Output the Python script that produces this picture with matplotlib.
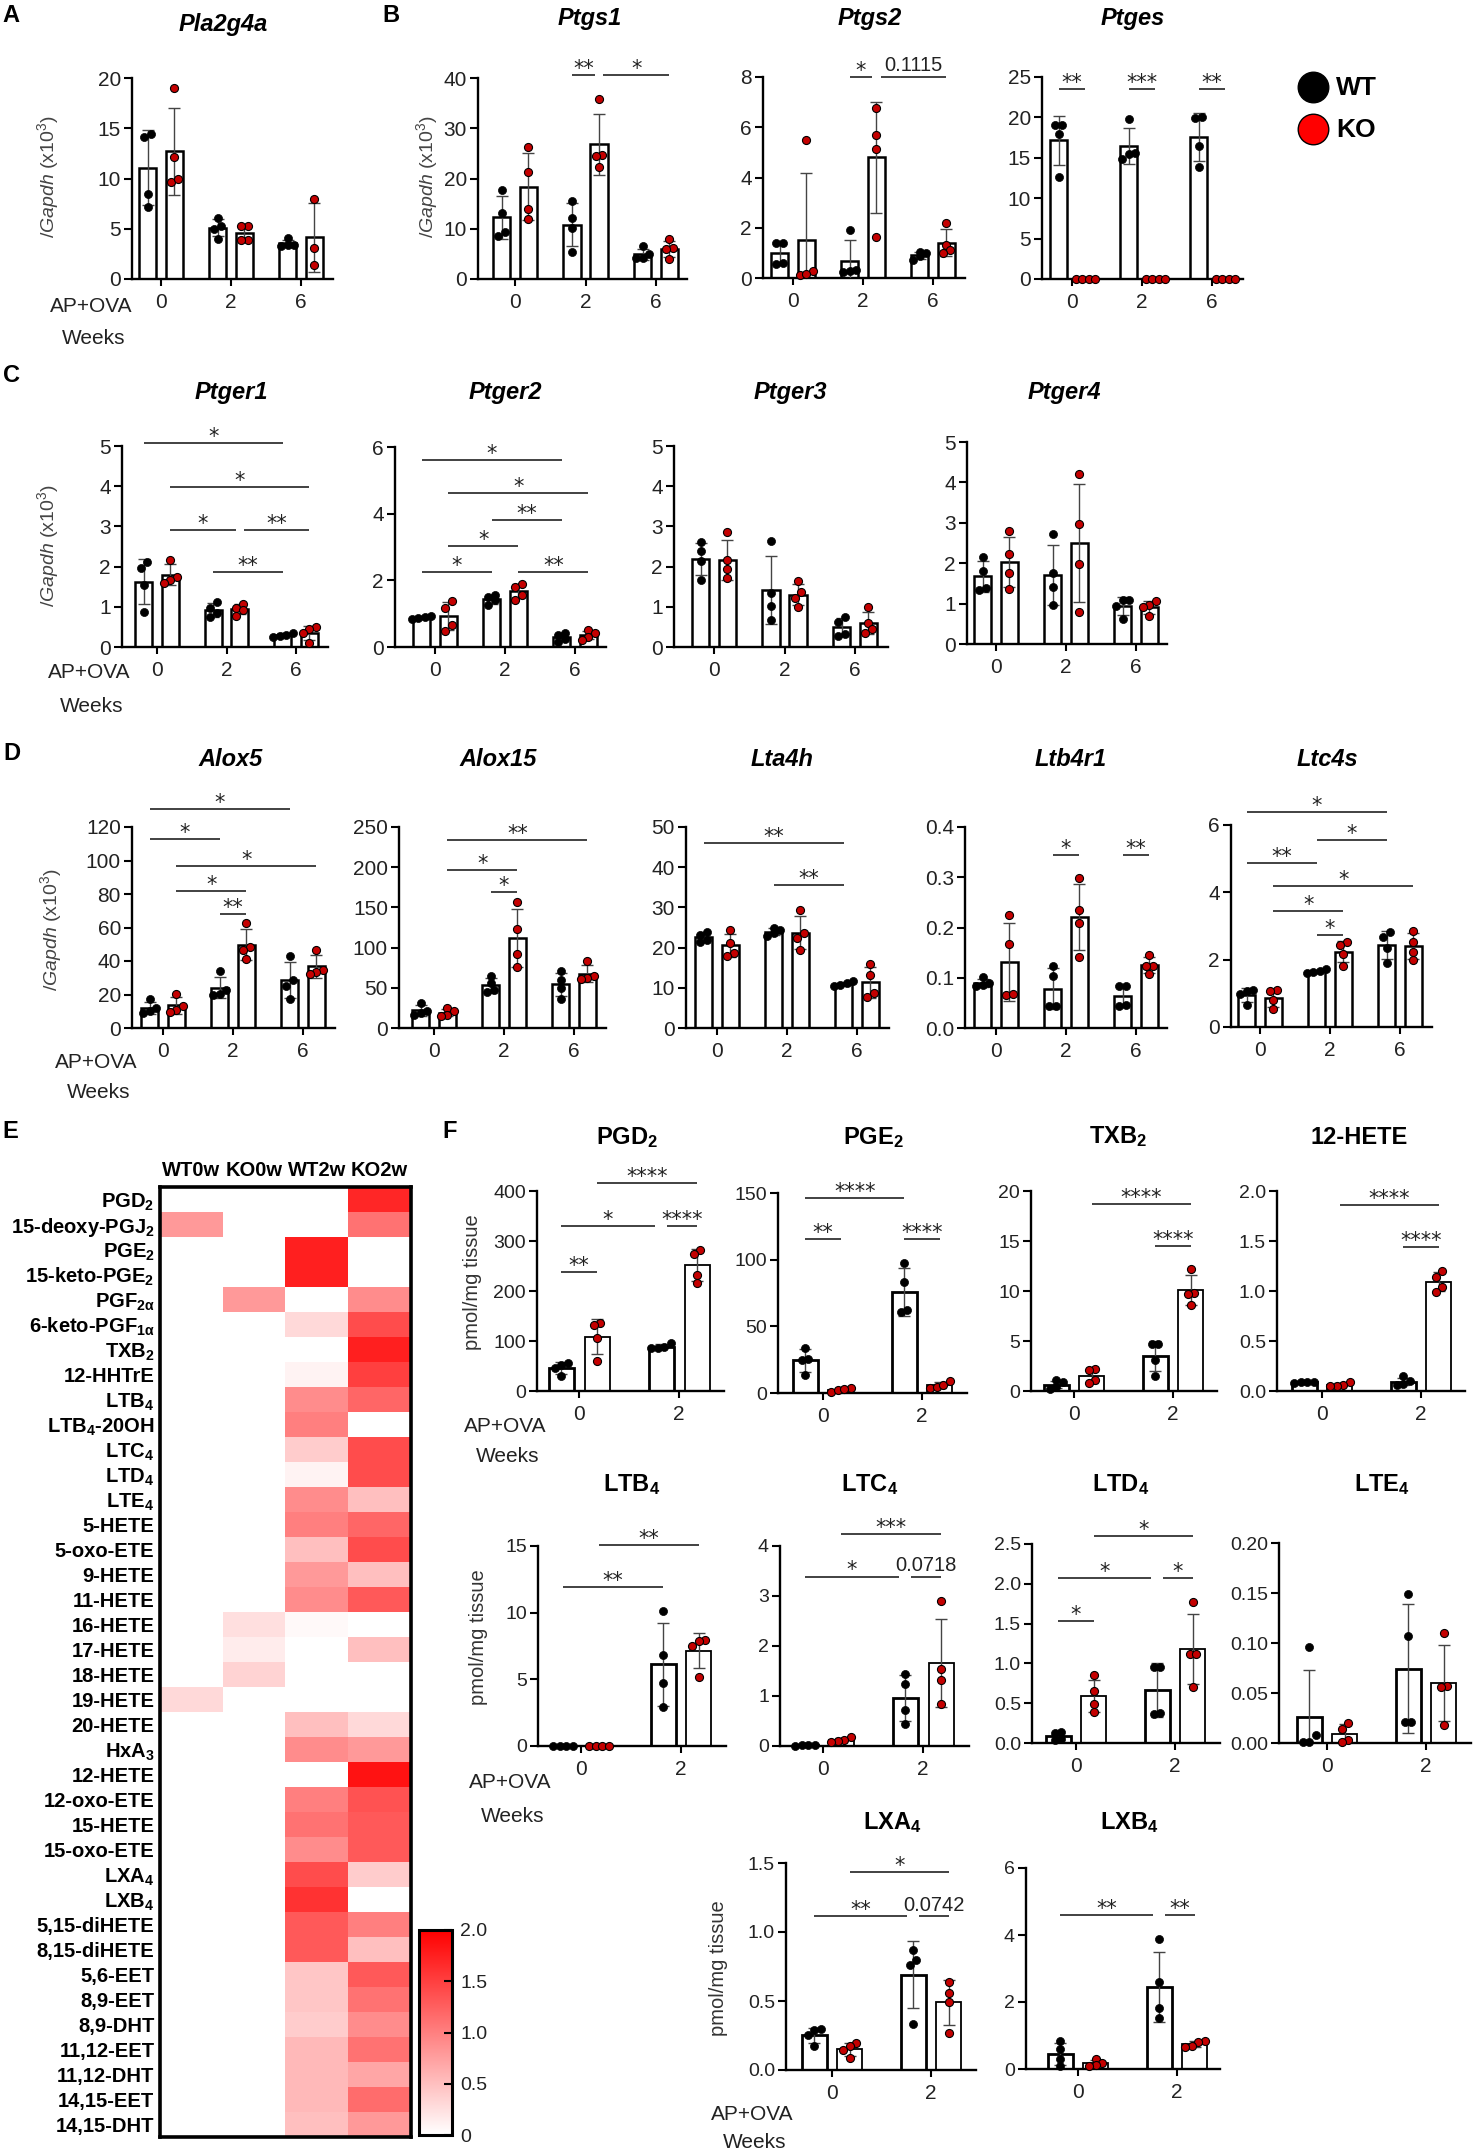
import numpy as np
import matplotlib
matplotlib.use('Agg')
import matplotlib.pyplot as plt
from matplotlib.colors import LinearSegmentedColormap

plt.rcParams['font.family'] = ['Liberation Sans', 'DejaVu Sans']
plt.rcParams['mathtext.fontset'] = 'custom'
plt.rcParams['mathtext.rm'] = 'Liberation Sans'
plt.rcParams['mathtext.it'] = 'Liberation Sans:italic'
plt.rcParams['mathtext.bf'] = 'Liberation Sans:bold'
plt.rcParams['mathtext.default'] = 'regular'

W, H = 1476, 2154

# replicate points per group, order: WT0, KO0, WT2, KO2, WT6, KO6
pla2g4a = [[14.1, 14.4, 8.5, 7.2], [19.0, 12.1, 9.7, 10.0], [6.1, 5.3, 5.0, 4.0],
           [5.3, 5.3, 3.9, 3.9], [4.1, 3.4, 3.3, 3.4], [8.0, 3.1, 1.4]]
ptgs1 = [[17.8, 13.2, 9.4, 8.6], [26.3, 21.3, 14.0, 12.0], [15.5, 12.2, 10.2, 5.4],
         [35.8, 24.6, 24.4, 22.3], [6.5, 4.9, 4.2, 4.2], [7.9, 6.2, 6.0, 3.9]]
ptgs2 = [[1.39, 1.39, 0.6, 0.57], [5.5, 0.26, 0.13, 0.17], [1.92, 0.26, 0.22, 0.33],
         [6.75, 5.7, 5.13, 1.63], [0.99, 1.03, 0.86, 0.73], [2.2, 1.32, 1.12, 0.99]]
ptges = [[19.0, 19.1, 17.9, 12.6], [0, 0, 0, 0], [19.8, 15.5, 14.9, 15.6],
         [0, 0, 0, 0], [19.9, 20.1, 16.4, 13.9], [0, 0, 0, 0]]
ptger1 = [[2.12, 1.96, 1.53, 0.87], [2.17, 1.75, 1.67, 1.6], [1.13, 0.97, 0.84, 0.74],
          [1.07, 0.97, 0.93, 0.78], [0.35, 0.31, 0.28, 0.26], [0.49, 0.45, 0.35, 0.1]]
ptger2 = [[0.92, 0.9, 0.87, 0.84], [1.37, 1.17, 0.67, 0.47], [1.57, 1.5, 1.4, 1.27],
          [1.89, 1.81, 1.57, 1.42], [0.42, 0.37, 0.24, 0.14], [0.5, 0.42, 0.3, 0.22]]
ptger3 = [[2.6, 2.38, 2.13, 1.67], [2.87, 2.17, 1.94, 1.71], [2.63, 1.34, 1.02, 0.68],
          [1.63, 1.37, 1.22, 0.99], [0.75, 0.62, 0.33, 0.27], [0.99, 0.6, 0.46, 0.36]]
ptger4 = [[2.16, 1.81, 1.39, 1.33], [2.79, 2.24, 1.75, 1.35], [2.72, 1.75, 1.42, 0.96],
          [4.22, 2.98, 1.99, 0.8], [1.1, 1.1, 0.94, 0.63], [1.07, 0.96, 0.92, 0.69]]
alox5 = [[17.3, 11.9, 10.3, 9.0], [20.5, 13.3, 10.9, 9.4], [33.8, 22.5, 20.5, 19.9],
         [62.7, 48.2, 46.8, 41.2], [42.8, 28.9, 24.9, 17.3], [46.8, 34.8, 33.2, 32.4]]
alox15 = [[31.1, 20.7, 18.7, 16.6], [24.9, 20.7, 16.6, 14.5], [65.1, 56.0, 46.8, 44.4],
          [156.7, 123.1, 92.5, 75.5], [70.5, 60.1, 49.8, 36.1], [82.9, 64.3, 62.2, 60.9]]
lta4h = [[24.0, 23.2, 22.0, 21.3], [24.3, 21.1, 18.7, 18.0], [24.9, 24.5, 23.6, 23.0],
         [29.4, 23.6, 22.4, 19.5], [11.6, 11.2, 10.8, 10.4], [15.8, 13.3, 8.7, 7.6]]
ltb4r1 = [[0.101, 0.09, 0.086, 0.083], [0.224, 0.167, 0.066, 0.068], [0.123, 0.103, 0.043, 0.044],
          [0.299, 0.234, 0.209, 0.141], [0.083, 0.083, 0.046, 0.044], [0.146, 0.124, 0.123, 0.108]]
ltc4s = [[1.11, 1.07, 0.97, 0.64], [1.09, 1.07, 0.79, 0.52], [1.71, 1.67, 1.64, 1.59],
         [2.53, 2.43, 2.18, 1.81], [2.83, 2.68, 2.35, 1.9], [2.86, 2.53, 2.23, 2.0]]

# lipid panels, order: WT0, KO0, WT2, KO2
pgd2 = [[56.7, 51.3, 46.7, 29.3], [136.7, 131.3, 106, 60], [96.7, 88, 86, 85.3], [282.7, 273.3, 232.7, 216]]
pge2 = [[33.75, 25.75, 25, 13.25], [0.75, 4, 2.5, 3.25], [97.75, 83.25, 62, 60.75], [3.75, 4.5, 5.75, 9]]
txb2 = [[1.07, 0.9, 0.4, 0.23], [2.23, 2.07, 1.07, 0.8], [4.67, 4.67, 3.13, 1.47], [12.17, 9.83, 9.73, 8.63]]
hete12 = [[0.085, 0.09, 0.09, 0.095], [0.09, 0.057, 0.05, 0.047], [0.147, 0.097, 0.073, 0.063], [1.2, 1.14, 1.04, 0.99]]
ltb4 = [[0.03, 0.02, 0.02, 0.01], [0.02, 0.02, 0.02, 0.02], [10.1, 6.8, 4.7, 2.9], [7.95, 7.9, 7.5, 5.2]]
ltc4 = [[0.01, 0.02, 0.02, 0.03], [0.187, 0.12, 0.107, 0.087], [1.45, 1.24, 0.73, 0.44], [2.9, 1.55, 1.33, 0.85]]
ltd4 = [[0.14, 0.126, 0.055, 0.034], [0.85, 0.65, 0.49, 0.39], [0.96, 0.96, 0.38, 0.37], [1.77, 1.12, 1.12, 0.7]]
lte4 = [[0.096, 0.0077, 0.001, 0.001], [0.02, 0.0143, 0.0027, 0.001], [0.149, 0.107, 0.021, 0.021], [0.11, 0.057, 0.056, 0.018]]
lxa4 = [[0.294, 0.289, 0.253, 0.174], [0.193, 0.174, 0.145, 0.089], [0.873, 0.796, 0.76, 0.333], [0.639, 0.559, 0.494, 0.265]]
lxb4 = [[0.83, 0.6, 0.3, 0.08], [0.3, 0.18, 0.13, 0.08], [3.88, 2.59, 1.82, 1.52], [0.83, 0.8, 0.7, 0.66]]

# significance: (bar i, bar j, height, label)
sig_ptgs1 = [(2, 3, 40.6, '**'), (3, 5, 40.6, '*')]
sig_ptgs2 = [(2, 3, 8.0, '*'), (3, 5, 8.0, '0.1115')]
sig_ptges = [(0, 1, 23.5, '**'), (2, 3, 23.5, '***'), (4, 5, 23.5, '**')]
sig_ptger1 = [(0, 4, 5.07, '*'), (1, 5, 3.99, '*'), (1, 3, 2.91, '*'), (3, 5, 2.91, '**'), (2, 4, 1.86, '**')]
sig_ptger2 = [(0, 4, 5.62, '*'), (1, 5, 4.63, '*'), (2, 4, 3.81, '**'), (1, 3, 3.03, '*'),
              (0, 2, 2.26, '*'), (3, 5, 2.26, '**')]
sig_alox5 = [(0, 4, 130.7, '*'), (0, 2, 112.8, '*'), (1, 5, 96.5, '*'), (1, 3, 81.6, '*'), (2, 3, 68.1, '**')]
sig_alox15 = [(1, 5, 234, '**'), (1, 3, 197, '*'), (2, 3, 168.7, '*')]
sig_lta4h = [(0, 4, 46.0, '**'), (2, 4, 35.5, '**')]
sig_ltb4r1 = [(2, 3, 0.345, '*'), (4, 5, 0.345, '**')]
sig_ltc4s = [(0, 4, 6.38, '*'), (2, 4, 5.56, '*'), (0, 2, 4.88, '**'), (1, 5, 4.2, '*'),
             (1, 3, 3.45, '*'), (2, 3, 2.73, '*')]
sig_pgd2 = [(1, 3, 416.7, '****'), (0, 2, 330, '*'), (2, 3, 330, '****'), (0, 1, 238, '**')]
sig_pge2 = [(0, 2, 146.5, '****'), (0, 1, 115.75, '**'), (2, 3, 115.75, '****')]
sig_txb2 = [(1, 3, 18.73, '****'), (2, 3, 14.47, '****')]
sig_hete12 = [(1, 3, 1.857, '****'), (2, 3, 1.44, '****')]
sig_ltb4 = [(1, 3, 15.08, '**'), (0, 2, 11.9, '**')]
sig_ltc4 = [(1, 3, 4.24, '***'), (0, 2, 3.39, '*'), (2, 3, 3.39, '0.0718')]
sig_ltd4 = [(1, 3, 2.6, '*'), (0, 2, 2.07, '*'), (2, 3, 2.07, '*'), (0, 1, 1.535, '*')]
sig_lxa4 = [(1, 3, 1.435, '*'), (0, 2, 1.114, '**'), (2, 3, 1.114, '0.0742')]
sig_lxb4 = [(0, 2, 4.6, '**'), (2, 3, 4.6, '**')]

weeks3 = ['0', '2', '6']
weeks2 = ['0', '2']

# heatmap (panel E)
hm_rows = ['PGD$_2$', '15-deoxy-PGJ$_2$', 'PGE$_2$', '15-keto-PGE$_2$', 'PGF$_{2α}$', '6-keto-PGF$_{1α}$',
           'TXB$_2$', '12-HHTrE', 'LTB$_4$', 'LTB$_4$-20OH', 'LTC$_4$', 'LTD$_4$', 'LTE$_4$', '5-HETE',
           '5-oxo-ETE', '9-HETE', '11-HETE', '16-HETE', '17-HETE', '18-HETE', '19-HETE', '20-HETE',
           'HxA$_3$', '12-HETE', '12-oxo-ETE', '15-HETE', '15-oxo-ETE', 'LXA$_4$', 'LXB$_4$',
           '5,15-diHETE', '8,15-diHETE', '5,6-EET', '8,9-EET', '8,9-DHT', '11,12-EET', '11,12-DHT',
           '14,15-EET', '14,15-DHT']
hm_cols = ['WT0w', 'KO0w', 'WT2w', 'KO2w']
hm_wt0 = [0, 0.8, 0, 0, 0, 0, 0, 0, 0, 0, 0, 0, 0, 0, 0, 0, 0, 0, 0, 0, 0.3, 0, 0, 0, 0, 0, 0, 0, 0,
          0, 0, 0, 0, 0, 0, 0, 0, 0]
hm_ko0 = [0, 0, 0, 0, 0.8, 0, 0, 0, 0, 0, 0, 0, 0, 0, 0, 0, 0, 0.25, 0.15, 0.35, 0, 0, 0, 0, 0, 0, 0,
          0, 0, 0, 0, 0, 0, 0, 0, 0, 0, 0]
hm_wt2 = [0, 0, 1.75, 1.75, 0, 0.3, 0, 0.1, 0.9, 1.0, 0.4, 0.1, 0.9, 1.0, 0.5, 0.8, 0.9, 0.05, 0, 0, 0,
          0.5, 0.9, 0, 1.0, 1.1, 0.9, 1.4, 1.6, 1.3, 1.3, 0.45, 0.45, 0.4, 0.55, 0.55, 0.55, 0.5]
hm_ko2 = [1.7, 1.1, 0, 0, 0.9, 1.4, 1.75, 1.5, 1.2, 0, 1.4, 1.4, 0.5, 1.2, 1.4, 0.5, 1.3, 0, 0.5, 0, 0,
          0.3, 0.8, 1.85, 1.35, 1.3, 1.3, 0.4, 0, 1.0, 0.5, 1.3, 1.1, 0.9, 1.1, 0.7, 1.15, 0.8]

GENE_YLABEL = r'$\it{/Gapdh}$ (x10$^3$)'
KO_RED = '#c40000'

fig = plt.figure(figsize=(W / 100, H / 100), dpi=100)
ov = fig.add_axes([0, 0, 1, 1])
ov.set_xlim(0, W)
ov.set_ylim(H, 0)
ov.axis('off')


def px_rect(l, t, r, b):
    return [l / W, 1 - b / H, (r - l) / W, (b - t) / H]


def swarm(v, thr, step):
    order = np.argsort(v)
    offs = np.zeros(len(v))
    clusters, cur = [], [order[0]]
    for k in order[1:]:
        if v[k] - v[cur[0]] < thr:
            cur.append(k)
        else:
            clusters.append(cur)
            cur = [k]
    clusters.append(cur)
    for c in clusters:
        for j, k in enumerate(c):
            offs[k] = (j - (len(c) - 1) / 2) * step
    return offs


def draw_panel(title, pts, sig, yticks, ylabels, rect, g0, sp, tpos, groups, lipid):
    l, t, r, b = rect
    ax = fig.add_axes(px_rect(l, t, r, b))
    off = 0.18 if lipid else 0.19
    ax.set_xlim((l - g0) / sp, (r - g0) / sp)
    ymax = yticks[-1]
    ax.set_ylim(0, ymax)
    bx = lambda i: i // 2 + (off if i % 2 else -off)
    for i, vals in enumerate(pts):
        v = np.array(vals, float)
        m, s = v.mean(), v.std(ddof=1)
        x = bx(i)
        lw = (2.0 if i % 2 == 0 else 1.3) if lipid else 1.8
        ax.bar(x, m, width=0.25, facecolor='white', edgecolor='black', linewidth=lw, zorder=2)
        ax.errorbar(x, m, yerr=s, fmt='none', ecolor='#444444', elinewidth=1.0,
                    capsize=4, capthick=1.0, zorder=3)
        xs = x + swarm(v, 0.035 * ymax, 6.5 / sp)
        if i % 2 == 0:
            ax.plot(xs, v, 'o', ms=5.8, mfc='black', mec='black', mew=0.5, zorder=4, clip_on=False)
        else:
            ax.plot(xs, v, 'o', ms=5.8, mfc=KO_RED, mec='black', mew=0.8, zorder=4, clip_on=False)
    for (i, j, y, lab) in sig:
        x1, x2 = bx(i), bx(j)
        for (i2, j2, y2, _) in sig:
            if (i2, j2) != (i, j) and abs(y2 - y) < 1e-9:
                if i2 == j:
                    x2 -= 0.06
                if j2 == i:
                    x1 += 0.06
        ax.plot([x1, x2], [y, y], color='#333333', lw=1.3, clip_on=False, solid_capstyle='butt')
        if set(lab) == {'*'}:
            ax.annotate(lab, ((x1 + x2) / 2, y), xytext=(0, 0), textcoords='offset points',
                        ha='center', va='baseline', fontsize=15, family='DejaVu Sans',
                        color='#222222', annotation_clip=False)
        else:
            ax.annotate(lab, ((x1 + x2) / 2, y), xytext=(0, 4), textcoords='offset points',
                        ha='center', va='baseline', fontsize=14.5, color='#222222',
                        annotation_clip=False)
    for sname in ['top', 'right']:
        ax.spines[sname].set_visible(False)
    for sname in ['left', 'bottom']:
        ax.spines[sname].set_linewidth(1.7)
    ax.set_xticks(range(len(groups)))
    ax.set_xticklabels(groups)
    ax.set_yticks(yticks)
    ax.set_yticklabels(ylabels if ylabels else [f'{v:g}' for v in yticks])
    ax.tick_params(axis='x', length=5, width=1.5, labelsize=15, labelcolor='#222222', pad=5)
    ax.tick_params(axis='y', length=6, width=1.5, labelsize=14 if lipid else 15,
                   labelcolor='#222222', pad=2)
    ov.text(tpos[0], tpos[1], title, ha='center', va='center', fontsize=17, fontweight='bold',
            fontstyle='normal' if lipid else 'italic')
    return ax


gene_specs = [
    ('Pla2g4a', pla2g4a, [], [0, 5, 10, 15, 20], None, (132, 78, 333, 279), 161, 70, (223, 25)),
    ('Ptgs1', ptgs1, sig_ptgs1, [0, 10, 20, 30, 40], None, (478, 78, 687, 279), 515, 70.5, (590, 18)),
    ('Ptgs2', ptgs2, sig_ptgs2, [0, 2, 4, 6, 8], None, (763, 77, 965, 278), 793, 70, (870, 18)),
    ('Ptges', ptges, sig_ptges, [0, 5, 10, 15, 20, 25], None, (1042, 77, 1243, 279), 1072, 70, (1133, 18)),
    ('Ptger1', ptger1, sig_ptger1, [0, 1, 2, 3, 4, 5], None, (122, 446, 328, 647), 157, 69.5, (231, 392)),
    ('Ptger2', ptger2, sig_ptger2, [0, 2, 4, 6], None, (395, 447, 606, 647), 435, 70, (505, 392)),
    ('Ptger3', ptger3, [], [0, 1, 2, 3, 4, 5], None, (674, 446, 888, 647), 714, 70.5, (790, 392)),
    ('Ptger4', ptger4, [], [0, 1, 2, 3, 4, 5], None, (967, 442, 1167, 644), 996, 70, (1064, 392)),
    ('Alox5', alox5, sig_alox5, [0, 20, 40, 60, 80, 100, 120], None, (132, 827, 335, 1028), 163, 70, (231, 760)),
    ('Alox15', alox15, sig_alox15, [0, 50, 100, 150, 200, 250], None, (399, 827, 606, 1028), 434, 70, (498, 760)),
    ('Lta4h', lta4h, sig_lta4h, [0, 10, 20, 30, 40, 50], None, (686, 827, 889, 1028), 717, 70, (782, 760)),
    ('Ltb4r1', ltb4r1, sig_ltb4r1, [0, 0.1, 0.2, 0.3, 0.4], ['0.0', '0.1', '0.2', '0.3', '0.4'],
     (965, 827, 1167, 1028), 996, 70, (1071, 760)),
    ('Ltc4s', ltc4s, sig_ltc4s, [0, 2, 4, 6], None, (1231, 825, 1432, 1027), 1260, 70, (1327, 760)),
]
lipid_specs = [
    ('PGD$_2$', pgd2, sig_pgd2, [0, 100, 200, 300, 400], None, (537, 1191, 724, 1391), 579, 100, (627, 1138)),
    ('PGE$_2$', pge2, sig_pge2, [0, 50, 100, 150], None, (778, 1193, 967, 1393), 823, 99, (873, 1138)),
    ('TXB$_2$', txb2, sig_txb2, [0, 5, 10, 15, 20], None, (1031, 1191, 1217, 1391), 1074, 99, (1118, 1137)),
    ('12-HETE', hete12, sig_hete12, [0, 0.5, 1.0, 1.5, 2.0], ['0.0', '0.5', '1.0', '1.5', '2.0'],
     (1277, 1191, 1465, 1391), 1322, 99, (1359, 1137)),
    ('LTB$_4$', ltb4, sig_ltb4, [0, 5, 10, 15], None, (538, 1546, 726, 1746), 581, 100, (632, 1485)),
    ('LTC$_4$', ltc4, sig_ltc4, [0, 1, 2, 3, 4], None, (780, 1546, 969, 1746), 823, 100, (870, 1485)),
    ('LTD$_4$', ltd4, sig_ltd4, [0, 0.5, 1.0, 1.5, 2.0, 2.5], ['0.0', '0.5', '1.0', '1.5', '2.0', '2.5'],
     (1032, 1544, 1220, 1743), 1076, 99, (1121, 1485)),
    ('LTE$_4$', lte4, [], [0, 0.05, 0.10, 0.15, 0.20], ['0.00', '0.05', '0.10', '0.15', '0.20'],
     (1279, 1543, 1471, 1743), 1327, 99, (1382, 1485)),
    ('LXA$_4$', lxa4, sig_lxa4, [0, 0.5, 1.0, 1.5], ['0.0', '0.5', '1.0', '1.5'],
     (786, 1863, 976, 2070), 832, 99, (892, 1823)),
    ('LXB$_4$', lxb4, sig_lxb4, [0, 2, 4, 6], None, (1026, 1868, 1220, 2069), 1078, 99, (1129, 1823)),
]

for s in gene_specs:
    draw_panel(*s, groups=weeks3, lipid=False)
for s in lipid_specs:
    draw_panel(*s, groups=weeks2, lipid=True)

# axis labels
for (x, y) in [(48, 177), (427, 177), (48, 546), (51, 930)]:
    ov.text(x, y, GENE_YLABEL, rotation=90, ha='center', va='center', fontsize=14, color='#444444')
for (x, y) in [(472, 1282), (478, 1637), (719, 1968)]:
    ov.text(x, y, 'pmol/mg tissue', rotation=90, ha='center', va='center', fontsize=14.5, color='#333333')
for (x, y1, y2) in [(91, 307, 338), (89, 672, 707), (96, 1062, 1092),
                    (505, 1426, 1456), (510, 1783, 1816), (752, 2114, 2142)]:
    ov.text(x, y1, 'AP+OVA', ha='center', va='center', fontsize=15, color='#222222')
    ov.text(x + 3, y2, 'Weeks', ha='center', va='center', fontsize=15, color='#222222')

# panel letters
for (lab, x, y) in [('A', 2, 15), ('B', 382, 15), ('C', 3, 376), ('D', 3, 754), ('E', 2, 1131), ('F', 442, 1131)]:
    ov.text(x, y, lab, ha='left', va='center', fontsize=17, fontweight='bold')

# legend
ov.plot([1313], [87], 'o', ms=22, mfc='black', mec='black', clip_on=False)
ov.plot([1313], [129], 'o', ms=22, mfc='#ff0000', mec='black', mew=1.0, clip_on=False)
ov.text(1336, 88, 'WT', ha='left', va='center', fontsize=19, fontweight='bold')
ov.text(1336, 130, 'KO', ha='left', va='center', fontsize=19, fontweight='bold')

# heatmap E
cmap = LinearSegmentedColormap.from_list('wr', ['#ffffff', '#ff0000'])
hm = np.column_stack([hm_wt0, hm_ko0, hm_wt2, hm_ko2])
axh = fig.add_axes(px_rect(160, 1187, 411, 2137))
im = axh.imshow(hm, cmap=cmap, vmin=0, vmax=2, aspect='auto', interpolation='nearest')
axh.set_xticks([])
axh.set_yticks(range(len(hm_rows)))
axh.set_yticklabels(hm_rows, fontsize=14.5, fontweight='bold')
axh.tick_params(axis='y', length=0, pad=4)
for sp_ in axh.spines.values():
    sp_.set_linewidth(2.6)
for k, c in enumerate(hm_cols):
    ov.text(160 + 62.75 * (k + 0.5), 1170, c, ha='center', va='center', fontsize=14.5, fontweight='bold')

cax = fig.add_axes(px_rect(419, 1930, 452, 2135))
cb = fig.colorbar(im, cax=cax, ticks=[0, 0.5, 1.0, 1.5, 2.0])
cb.ax.set_yticklabels(['0', '0.5', '1.0', '1.5', '2.0'])
cb.outline.set_linewidth(2.2)
cb.ax.tick_params(length=6, width=1.5, direction='in', labelsize=14, labelcolor='#222222', pad=6)

fig.savefig('out.png', dpi=100)
